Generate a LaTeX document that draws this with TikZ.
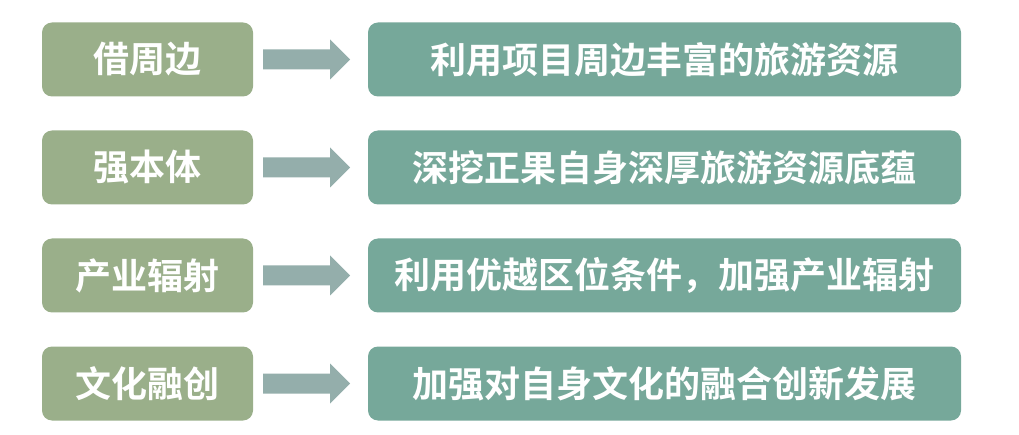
\documentclass[tikz,border=0pt]{standalone}
\usepackage{fontspec}
\newfontfamily\cjkb[BoldFont={Noto Sans CJK SC Bold}]{Noto Sans CJK SC Bold}
\definecolor{leftc}{HTML}{9AAF8A}
\definecolor{rightc}{HTML}{76A89A}
\definecolor{arrc}{HTML}{94AEAB}
\begin{document}
\begin{tikzpicture}[x=1pt,y=-1pt,
  lbox/.style={fill=leftc,rounded corners=10pt,minimum width=211pt,minimum height=74pt,inner sep=0pt,text=white,font=\cjkb\fontsize{36}{42}\selectfont},
  rbox/.style={fill=rightc,rounded corners=10pt,minimum width=593pt,minimum height=74pt,inner sep=0pt,text=white,font=\cjkb\fontsize{36}{42}\selectfont},
  bigarrow/.style={fill=arrc}]
\useasboundingbox (0,0) rectangle (1019,435);
\foreach \i/\l/\r [count=\n] in {0/借周边/利用项目周边丰富的旅游资源, 1/强本体/深挖正果自身深厚旅游资源底蕴, 2/产业辐射/利用优越区位条件，加强产业辐射, 3/文化融创/加强对自身文化的融合创新发展}{
  \pgfmathsetmacro{\yc}{59.5+108*\i}
  \node[lbox] (L\n) at (147.5,\yc) {\l};
  \node[rbox] (R\n) at (664.5,\yc) {\r};
  \coordinate (A\n) at (263,\yc);
  \fill[bigarrow] (A\n) ++(0,-10) -- ++(67,0) -- ++(0,-10) -- ++(20,20) -- ++(-20,20) -- ++(0,-10) -- ++(-67,0) -- cycle;
}
\end{tikzpicture}
\end{document}
